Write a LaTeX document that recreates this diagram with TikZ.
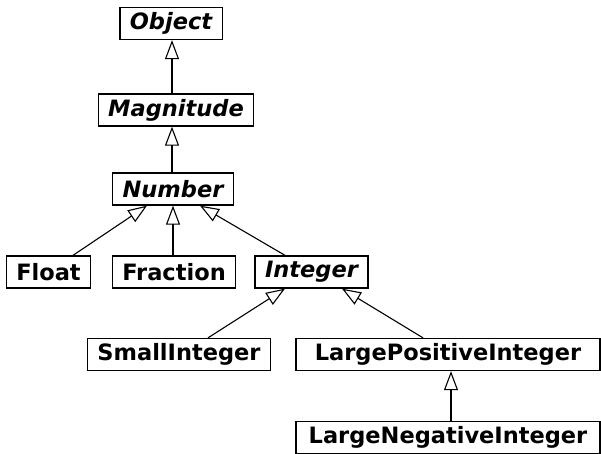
\documentclass[tikz,border=0pt]{standalone}
\usepackage{fontspec}
\setmainfont{DejaVu Sans}
\usepackage{tikz}
\usetikzlibrary{arrows.meta, positioning}

\begin{document}
\begin{tikzpicture}[x=1pt, y=-1pt,
    cls/.style={draw, line width=1.3pt, minimum height=32pt, inner xsep=10pt, inner ysep=0pt,
      font=\fontsize{22.5}{26}\selectfont\bfseries},
    abst/.style={cls, font=\fontsize{22.5}{26}\selectfont\bfseries\itshape},
    inh/.style={-{Triangle[open, length=19pt, width=14pt, line width=1.1pt]}, line width=1.1pt}]
    \useasboundingbox (0,0) rectangle (601,454);

    % Abstract classes
    \node[abst] (object) at (171,23.5) {Object};
    \node[abst] (magnitude) at (176,110) {Magnitude};
    \node[abst] (number) at (173,189) {Number};
    \node[abst] (integer) at (311.5,272) {Integer};

    % Concrete classes
    \node[cls] (float) at (48.5,272) {Float};
    \node[cls] (fraction) at (174,272) {Fraction};
    \node[cls] (smallint) at (179,354.5) {SmallInteger};
    \node[cls, minimum width=304pt] (largepos) at (448,354.5) {LargePositiveInteger};
    \node[cls, minimum width=304pt] (largeneg) at (448,437.5) {LargeNegativeInteger};

    % Inheritance
    \draw[inh] (magnitude.north -| 172,0) -- (object.south -| 172,0);
    \draw[inh] (number.north -| 172,0) -- (magnitude.south -| 172,0);
    \draw[inh] ([xshift=24.5pt]float.north) -- ([xshift=-26pt]number.south);
    \draw[inh] (fraction.north -| 173,0) -- (number.south -| 173,0);
    \draw[inh] ([xshift=-26.5pt]integer.north) -- ([xshift=27pt]number.south);
    \draw[inh] ([xshift=29pt]smallint.north) -- ([xshift=-26.5pt]integer.south);
    \draw[inh] ([xshift=-25pt]largepos.north) -- ([xshift=30.5pt]integer.south);
    \draw[inh] (largeneg.north -| 451,0) -- (largepos.south -| 451,0);
\end{tikzpicture}
\end{document}
